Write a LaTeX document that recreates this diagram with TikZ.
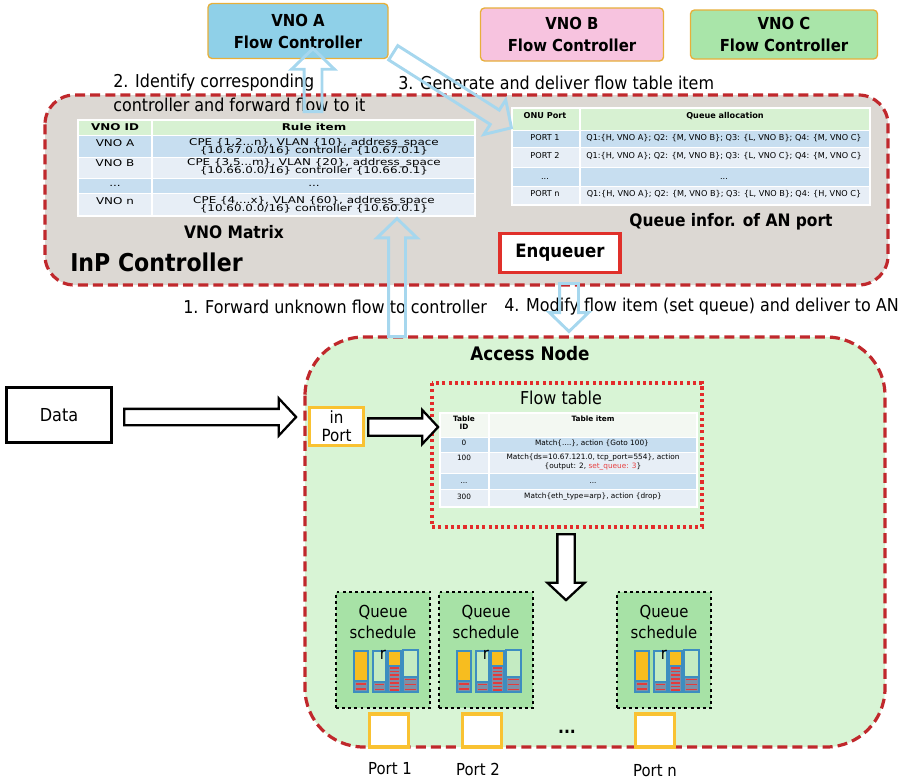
\documentclass[tikz,border=0pt]{standalone}
\usepackage{fontspec}
\setmainfont{DejaVu Sans Condensed}
\newfontfamily\tblfont{DejaVu Sans}
\usepackage{graphicx}
\usetikzlibrary{shapes.arrows}
\definecolor{inpgray}{HTML}{DCD8D3}
\definecolor{angreen}{HTML}{D8F4D5}
\definecolor{dred}{HTML}{C0282C}
\definecolor{lblue}{HTML}{A6D7EE}
\definecolor{vnoafill}{HTML}{8FD0E8}
\definecolor{vnoborder}{HTML}{E7AF3A}
\definecolor{vnobfill}{HTML}{F7C3DF}
\definecolor{vnocfill}{HTML}{A9E5A9}
\definecolor{hdrgreen}{HTML}{D7F1D2}
\definecolor{rowblue}{HTML}{C7DEF0}
\definecolor{rowlight}{HTML}{E7EEF6}
\definecolor{hdrwhite}{HTML}{F3F8F2}
\definecolor{qgreen}{HTML}{A7E2A6}
\definecolor{barlight}{HTML}{C4EBC2}
\definecolor{bary}{HTML}{F7BD1F}
\definecolor{barblue}{HTML}{3D8DC0}
\definecolor{stackbg}{HTML}{7E8FA6}
\definecolor{stackred}{HTML}{E33B3B}
\definecolor{portorange}{HTML}{F9C232}
\definecolor{enqred}{HTML}{E0302A}
\definecolor{dotred}{HTML}{E32B2B}
\definecolor{qred}{HTML}{E84040}
\newlength\pxl \setlength\pxl{0.75pt}
\newcommand\tA[1]{\scalebox{1.28}[1]{#1}}
\newcommand\qstack[5]{%
  \fill[stackbg] (#1,#2) rectangle (#3,#4);
  \foreach \k in {1,...,#5}{\fill[stackred] ({#1+2},{#2+(\k-0.5)*(#4-#2)/#5-0.9}) rectangle ({#3-2},{#2+(\k-0.5)*(#4-#2)/#5+0.9});}
  \draw[barblue, line width=0.8pt] (#1,#2) rectangle (#3,#4);
}
\newcommand\qsched[2]{%
  \node[qbox] (#2) at ({#1+47},650) {};
  \node[qlab] (#2-t1) at ({#1+47},612) {Queue};
  \node[qlab] (#2-t2) at ({#1+47},632) {schedule};
  \fill[bary] ({#1+18},651) rectangle ({#1+32},681);
  \qstack{#1+18}{681}{#1+32}{692}{2}
  \draw[barblue, line width=1pt] ({#1+18},651) rectangle ({#1+32},692);
  \fill[barlight] ({#1+37},651) rectangle ({#1+50},692);
  \qstack{#1+37}{682}{#1+50}{692}{2}
  \draw[barblue, line width=1pt] ({#1+37},651) rectangle ({#1+50},692);
  \fill[bary] ({#1+52},651) rectangle ({#1+65},666);
  \qstack{#1+52}{666}{#1+65}{692}{7}
  \draw[barblue, line width=1pt] ({#1+52},651) rectangle ({#1+65},692);
  \fill[barlight] ({#1+67},650) rectangle ({#1+82},692);
  \qstack{#1+67}{677}{#1+82}{692}{3}
  \draw[barblue, line width=1pt] ({#1+67},650) rectangle ({#1+82},692);
  \node[qlab] (#2-r) at ({#1+47},655) {r};
}
\tikzset{
  reddash/.style={draw=dred, line width=2.4pt, dash pattern=on 7.5pt off 3.8pt},
  lab/.style={font=\fontsize{13.3}{15}\selectfont, inner sep=0pt},
  qlab/.style={font=\fontsize{12.4}{14}\selectfont, inner sep=0pt},
  btl/.style={font=\fontsize{12.9}{15}\selectfont\bfseries, inner sep=0pt},
  ctrl/.style={draw=vnoborder, line width=1pt, rounded corners=3pt, align=center,
    font=\fontsize{12.4}{16.5}\selectfont\bfseries, minimum height=53\pxl},
  t1/.style={font=\tblfont\fontsize{7}{8}\selectfont, inner sep=0pt},
  t2/.style={font=\tblfont\fontsize{6.1}{7}\selectfont, inner sep=0pt},
  t3/.style={font=\tblfont\fontsize{5.5}{7}\selectfont, inner sep=0pt},
  qbox/.style={draw=black, fill=qgreen, line width=2.2pt, dash pattern=on 2.2pt off 2.4pt, minimum width=94\pxl, minimum height=116\pxl, inner sep=0pt},
  portbox/.style={draw=portorange, fill=white, line width=2.3pt, minimum width=39\pxl, minimum height=33\pxl, inner sep=0pt},
  lbarrow/.style={single arrow, draw=lblue, line width=2.2pt, inner xsep=0pt, single arrow tip angle=92, anchor=tail},
  bkarrow/.style={single arrow, draw=black, fill=white, line width=1.7pt, inner xsep=0pt, single arrow tip angle=94, anchor=tail},
}
\begin{document}
\begin{tikzpicture}[x=0.75pt,y=-0.75pt]
\useasboundingbox (0,0) rectangle (903,782);

% regions
\draw[reddash, fill=inpgray, rounded corners=22pt] (45,95) rectangle (888,285);
\draw[reddash, fill=angreen, rounded corners=44pt] (305,337) rectangle (885,747);

% controllers
\node[ctrl, fill=vnoafill, minimum width=180\pxl, minimum height=55\pxl] (vnoa) at (298,31) {VNO A\\Flow Controller};
\node[ctrl, fill=vnobfill, minimum width=183\pxl] (vnob) at (572,34.5) {VNO B\\Flow Controller};
\node[ctrl, fill=vnocfill, minimum width=187\pxl, minimum height=49\pxl] (vnoc) at (784,34.5) {VNO C\\Flow Controller};

% labels
\node[lab, anchor=west] (l2a) at (113,83) {2. Identify corresponding};
\node[lab, anchor=west] (l2b) at (113,105) {controller and forward flow to it};
\node[lab, anchor=west] (l3) at (398,83) {3. Generate and deliver flow table item};
\node[lab, anchor=west] (l1) at (183,307) {1. Forward unknown flow to controller};
\node[lab, anchor=west] (l4) at (504,307) {4. Modify flow item (set queue) and deliver to AN};

% VNO matrix table
\fill[hdrgreen] (78,120) rectangle (475,135);
\fill[rowblue] (78,135) rectangle (475,157);
\fill[rowlight] (78,157) rectangle (475,178);
\fill[rowblue] (78,178) rectangle (475,193);
\fill[rowlight] (78,193) rectangle (475,216);
\draw[white, line width=0.6pt] (78,135) -- (475,135) (78,157) -- (475,157) (78,178) -- (475,178) (78,193) -- (475,193);
\draw[white, line width=1.5pt] (78,120) rectangle (475,216) (152,120) -- (152,216);
\node[t1] (m01) at (115,127) {\tA{\bfseries VNO ID}};
\node[t1] (m02) at (314,127) {\tA{\bfseries Rule item}};
\node[t1] (m11) at (115,143) {\tA{VNO A}};
\node[t1] (m12) at (314,143) {\tA{CPE \{1,2...n\}, VLAN \{10\}, address\_space}};
\node[t1] (m13) at (314,151) {\tA{\{10.67.0.0/16\} controller \{10.67.0.1\}}};
\node[t1] (m21) at (115,163) {\tA{VNO B}};
\node[t1] (m22) at (314,163) {\tA{CPE \{3,5...m\}, VLAN \{20\}, address\_space}};
\node[t1] (m23) at (314,171) {\tA{\{10.66.0.0/16\} controller \{10.66.0.1\}}};
\node[t1] (m31) at (115,186) {\tA{...}};
\node[t1] (m32) at (314,186) {\tA{...}};
\node[t1] (m41) at (115,201) {\tA{VNO n}};
\node[t1] (m42) at (314,201) {\tA{CPE \{4,...x\}, VLAN \{60\}, address\_space}};
\node[t1] (m43) at (314,209) {\tA{\{10.60.0.0/16\} controller \{10.60.0.1\}}};
\node[btl] (vm) at (234,232) {VNO Matrix};
\node[font=\fontsize{18.4}{20}\selectfont\bfseries, inner sep=0pt, anchor=west] (inp) at (70,262) {InP Controller};

% queue table
\fill[hdrgreen] (512,108) rectangle (870,130);
\fill[rowblue] (512,130) rectangle (870,147);
\fill[rowlight] (512,147) rectangle (870,167);
\fill[rowblue] (512,167) rectangle (870,186);
\fill[rowlight] (512,186) rectangle (870,205);
\draw[white, line width=0.6pt] (512,130) -- (870,130) (512,147) -- (870,147) (512,167) -- (870,167) (512,186) -- (870,186);
\draw[white, line width=1.5pt] (512,108) rectangle (870,205) (580,108) -- (580,205);
\node[t2] (q01) at (545,116) {\bfseries ONU Port};
\node[t2] (q02) at (725,116) {\bfseries Queue allocation};
\node[t2] (q11) at (545,138) {PORT 1};
\node[t2] (q12) at (724,138) {Q1:\{H, VNO A\}; Q2: \{M, VNO B\}; Q3: \{L, VNO B\}; Q4: \{M, VNO C\}};
\node[t2] (q21) at (545,156) {PORT 2};
\node[t2] (q22) at (724,156) {Q1:\{H, VNO A\}; Q2: \{M, VNO B\}; Q3: \{L, VNO C\}; Q4: \{M, VNO C\}};
\node[t2] (q31) at (545,179) {...};
\node[t2] (q32) at (724,179) {...};
\node[t2] (q41) at (545,194) {PORT n};
\node[t2] (q42) at (724,194) {Q1:\{H, VNO A\}; Q2: \{M, VNO B\}; Q3: \{L, VNO B\}; Q4: \{H, VNO C\}};
\node[btl] (qi) at (731,222) {Queue infor. of AN port};

% enqueuer
\node[draw=enqred, fill=white, line width=2.3pt, minimum width=120\pxl, minimum height=39\pxl, font=\fontsize{13.8}{15}\selectfont\bfseries] (enq) at (560,253) {Enqueuer};

% access node
\node[font=\fontsize{14}{16}\selectfont\bfseries, inner sep=0pt] (an) at (530,354) {Access Node};
\node[draw=black, fill=white, line width=1.7pt, minimum width=105\pxl, minimum height=55\pxl, font=\fontsize{13.4}{15}\selectfont] (data) at (59,415) {Data};
\node[draw=portorange, fill=white, line width=2.3pt, minimum width=54\pxl, minimum height=38\pxl, inner sep=0pt, align=center, font=\fontsize{12.6}{13.5}\selectfont] (inport) at (336.5,426.5) {in\\Port};

% flow table
\draw[dotred, line width=2.3pt, dash pattern=on 2.3pt off 2.4pt] (432,383) rectangle (702,527);
\node[font=\fontsize{13.3}{15}\selectfont, inner sep=0pt] (ftt) at (561,398) {Flow table};
\fill[hdrwhite] (440,413) rectangle (697,437);
\fill[rowblue] (440,437) rectangle (697,452);
\fill[rowlight] (440,452) rectangle (697,473);
\fill[rowblue] (440,473) rectangle (697,489);
\fill[rowlight] (440,489) rectangle (697,507);
\draw[white, line width=0.6pt] (440,437) -- (697,437) (440,452) -- (697,452) (440,473) -- (697,473) (440,489) -- (697,489);
\draw[white, line width=1.3pt] (440,413) rectangle (697,507) (489,413) -- (489,507);
\node[t3] (f01) at (464,419) {\bfseries Table};
\node[t3] (f02) at (464,427) {\bfseries ID};
\node[t3] (f03) at (593,419) {\bfseries Table item};
\node[t3] (f11) at (464,443) {0};
\node[t3] (f12) at (592,443) {Match\{....\}, action \{Goto 100\}};
\node[t3] (f21) at (464,458) {100};
\node[t3] (f22) at (593,458) {Match\{ds=10.67.121.0, tcp\_port=554\}, action};
\node[t3] (f23) at (593,467) {\{output: 2, \textcolor{qred}{set\_queue: 3}\}};
\node[t3] (f31) at (464,483) {...};
\node[t3] (f32) at (593,483) {...};
\node[t3] (f41) at (464,497) {300};
\node[t3] (f42) at (593,497) {Match\{eth\_type=arp\}, action \{drop\}};

% queue schedules
\qsched{336}{qs1}
\qsched{439}{qs2}
\qsched{617}{qs3}

% ports
\node[portbox] (p1) at (389,730.5) {};
\node[portbox] (p2) at (482,730.5) {};
\node[portbox] (pn) at (655,730.5) {};
\node[font=\fontsize{13}{14}\selectfont\bfseries, inner sep=0pt] (pdots) at (567,732) {...};
\node[qlab] (p1l) at (390,769) {Port 1};
\node[qlab] (p2l) at (478,769) {Port 2};
\node[qlab] (pnl) at (655,771) {Port n};

% block arrows (black)
\coordinate (b1t) at (123,417);
\coordinate (b2t) at (367,427);
\coordinate (b3t) at (566,533);
\node[bkarrow, minimum height=172\pxl, inner ysep=7\pxl, single arrow head extend=10.5\pxl] (ba1) at (b1t) {};
\node[bkarrow, minimum height=70\pxl, inner ysep=7.5\pxl, single arrow head extend=8.5\pxl] (ba2) at (b2t) {};
\node[bkarrow, rotate=-90, minimum height=66\pxl, inner ysep=7.5\pxl, single arrow head extend=10\pxl] (ba3) at (b3t) {};

% light blue arrows
\coordinate (a1t) at (397,338);
\coordinate (a2t) at (313,113);
\coordinate (a3t) at (392,52);
\coordinate (a4t) at (569,282);
\node[lbarrow, rotate=90, minimum height=118\pxl, inner ysep=7\pxl, single arrow head extend=11.5\pxl] (la1) at (a1t) {};
\node[lbarrow, rotate=90, minimum height=63\pxl, inner ysep=7.5\pxl, single arrow head extend=12.5\pxl] (la2) at (a2t) {};
\node[lbarrow, rotate=-32.4, minimum height=140\pxl, inner ysep=7\pxl, single arrow head extend=12\pxl] (la3) at (a3t) {};
\node[lbarrow, rotate=-90, minimum height=48\pxl, inner ysep=8\pxl, single arrow head extend=10\pxl] (la4) at (a4t) {};
\end{tikzpicture}
\end{document}
